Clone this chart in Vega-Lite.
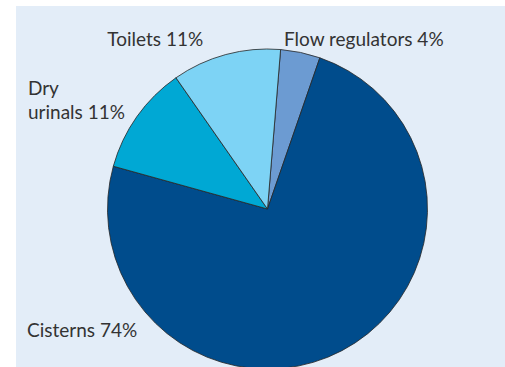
{
  "$schema": "https://vega.github.io/schema/vega-lite/v6.json",
  "width": 503,
  "height": 406,
  "autosize": {"type": "none"},
  "padding": {"left": 16, "top": 6, "right": 0, "bottom": 0},
  "background": "white",
  "config": {"view": {"fill": "#e3edf8", "stroke": null}},
  "data": {"values": [
    {"category": "Flow regulators", "value": 4, "k": 1, "label": "Flow regulators 4%"},
    {"category": "Cisterns", "value": 74, "k": 2, "label": "Cisterns 74%"},
    {"category": "Dry urinals", "value": 11, "k": 3, "label": "Dry\nurinals 11%"},
    {"category": "Toilets", "value": 11, "k": 4, "label": "Toilets 11%"}
  ]},
  "layer": [
    {
      "data": {"values": [{"panel": "background"}]},
      "mark": {"type": "rect", "color": "#e3edf8"},
      "encoding": {}
    },
    {
      "mark": {"type": "arc", "outerRadius": 160, "stroke": "#262626", "strokeWidth": 0.8},
      "encoding": {
        "theta": {"field": "value", "type": "quantitative", "stack": true, "scale": {"range": [0.082, 6.3652]}},
        "order": {"field": "k", "type": "quantitative"},
        "color": {
          "field": "category", "type": "nominal", "legend": null,
          "scale": {"domain": ["Flow regulators", "Cisterns", "Dry urinals", "Toilets"],
                    "range": ["#6c9bd2", "#004c8c", "#00a8d4", "#7dd3f5"]}
        }
      }
    },
    {
      "mark": {"type": "text", "radius": 170, "align": "left", "baseline": "alphabetic", "dx": -18.6, "dy": 3.3, "font": "Lato", "fontSize": 19, "color": "#333333"},
      "encoding": {
        "theta": {"field": "value", "type": "quantitative", "stack": true},
        "order": {"field": "k", "type": "quantitative"},
        "text": {"condition": {"test": "datum.category === 'Flow regulators'", "field": "label"}, "value": ""}
      }
    },
    {
      "mark": {"type": "text", "radius": 170, "align": "right", "baseline": "alphabetic", "dx": -20, "dy": 1, "font": "Lato", "fontSize": 19, "color": "#333333"},
      "encoding": {
        "theta": {"field": "value", "type": "quantitative", "stack": true},
        "order": {"field": "k", "type": "quantitative"},
        "text": {"condition": {"test": "datum.category === 'Toilets'", "field": "label"}, "value": ""}
      }
    },
    {
      "mark": {"type": "text", "radius": 170, "align": "left", "baseline": "alphabetic", "dx": -100.8, "dy": -15.7, "lineBreak": "\n", "lineHeight": 24, "font": "Lato", "fontSize": 19, "color": "#333333"},
      "encoding": {
        "theta": {"field": "value", "type": "quantitative", "stack": true},
        "order": {"field": "k", "type": "quantitative"},
        "text": {"condition": {"test": "datum.category === 'Dry urinals'", "field": "label"}, "value": ""}
      }
    },
    {
      "mark": {"type": "text", "radius": 170, "align": "left", "baseline": "alphabetic", "dx": -319.5, "dy": -22.5, "font": "Lato", "fontSize": 19, "color": "#333333"},
      "encoding": {
        "theta": {"field": "value", "type": "quantitative", "stack": true},
        "order": {"field": "k", "type": "quantitative"},
        "text": {"condition": {"test": "datum.category === 'Cisterns'", "field": "label"}, "value": ""}
      }
    }
  ]
}
